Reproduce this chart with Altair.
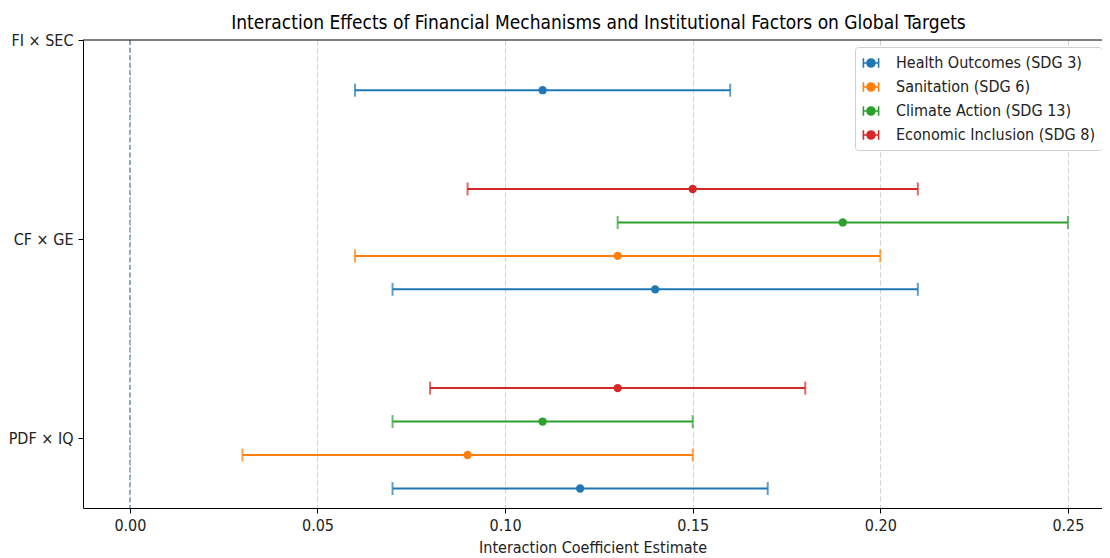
import json
import altair as alt
import pandas as pd

# ---- data ----
categories = ["PDF × IQ", "CF × GE", "FI × SEC"]          # bottom -> top
series_names = [
    "Health Outcomes (SDG 3)",
    "Sanitation (SDG 6)",
    "Climate Action (SDG 13)",
    "Economic Inclusion (SDG 8)",
]
colors = ["#1f77b4", "#ff7f0e", "#2ca02c", "#d62728"]

row_interaction = ["PDF × IQ"] * 4 + ["CF × GE"] * 4 + ["FI × SEC"]
row_series = series_names + series_names + [series_names[0]]
estimates = [0.12, 0.09, 0.11, 0.13, 0.14, 0.13, 0.19, 0.15, 0.11]
lower = [0.07, 0.03, 0.07, 0.08, 0.07, 0.06, 0.13, 0.09, 0.06]
upper = [0.17, 0.15, 0.15, 0.18, 0.21, 0.20, 0.25, 0.21, 0.16]
x_ticks = [0.0, 0.05, 0.10, 0.15, 0.20, 0.25]
zero_line = [0.0]
y_top = [2.0]

df = pd.DataFrame({
    "interaction": row_interaction,
    "series": row_series,
    "estimate": estimates,
    "lower": lower,
    "upper": upper,
})
zero_df = pd.DataFrame({"v": zero_line})
top_df = pd.DataFrame({"t": y_top})

FONT = "DejaVu Sans Condensed"
cats_js = json.dumps(categories, ensure_ascii=False)
ser_js = json.dumps(series_names, ensure_ascii=False)
ypos_expr = (f"indexof({cats_js}, datum.interaction) + "
             f"(indexof({ser_js}, datum.series) - 1.5) * 0.168")

x_scale = alt.Scale(domain=[-0.0125, 0.25909], nice=False, zero=False)
y_scale = alt.Scale(domain=[-0.35, 2.0], nice=False, zero=False)
y_axis = alt.Axis(values=[0, 1, 2], labelExpr=f"{cats_js}[datum.value]",
                  title=None, grid=False, tickSize=5, labelPadding=5,
                  labelFontSize=16, domainColor="black", tickColor="black")
y_enc = alt.Y("ypos:Q", scale=y_scale, axis=y_axis)
col_scale = alt.Scale(domain=series_names, range=colors)

# errorbar-like legend glyph: caps, bar and a (stroked, concentric) dot
legend_path = ("M-0.95,-0.6V0.6M0.95,-0.6V0.6M-0.95,0H0.95"
               "M0.5,0A0.5,0.5,0,1,1,-0.5,0A0.5,0.5,0,1,1,0.5,0"
               "M0.32,0A0.32,0.32,0,1,1,-0.32,0A0.32,0.32,0,1,1,0.32,0"
               "M0.14,0A0.14,0.14,0,1,1,-0.14,0A0.14,0.14,0,1,1,0.14,0")
legend = alt.Legend(title=None, orient="none", legendX=772, legendY=7,
                    symbolType=legend_path, symbolSize=256, symbolStrokeWidth=1.6,
                    symbolOpacity=1, labelLimit=400,
                    labelFontSize=16, labelFont=FONT, labelColor="#222222",
                    labelOffset=16, rowPadding=7, padding=7,
                    strokeColor="#d0d0d0", fillColor="white", cornerRadius=3)

base = alt.Chart(df).transform_calculate(ypos=ypos_expr)

bars = base.mark_rule(strokeWidth=2).encode(
    x=alt.X("lower:Q", scale=x_scale,
            axis=alt.Axis(values=x_ticks, format=".2f", grid=True,
                          gridColor="#cfcfcf", gridDash=[5, 3], gridWidth=1,
                          tickSize=5, labelPadding=4, labelFontSize=16,
                          domainColor="black", tickColor="black",
                          title="Interaction Coefficient Estimate",
                          titleFontSize=16, titlePadding=6,
                          titleFontWeight="normal")),
    x2="upper:Q",
    y=y_enc,
    color=alt.Color("series:N", scale=col_scale, legend=legend),
)

caps = base.transform_fold(["lower", "upper"], as_=["end", "val"]).mark_tick(
    orient="vertical", size=13, thickness=2
).encode(
    x=alt.X("val:Q", scale=x_scale),
    y=y_enc,
    color=alt.Color("series:N", scale=col_scale, legend=legend),
)

points = base.mark_circle(size=70, opacity=1).encode(
    x=alt.X("estimate:Q", scale=x_scale),
    y=y_enc,
    color=alt.Color("series:N", scale=col_scale, legend=legend),
)

zero = alt.Chart(zero_df).mark_rule(color="#1f77b4", strokeWidth=1,
                                    strokeDash=[5, 2.5]).encode(
    x=alt.X("v:Q", scale=x_scale),
)

top_spine = alt.Chart(top_df).mark_rule(color="black", strokeWidth=1).encode(
    y=alt.Y("t:Q", scale=y_scale),
)

chart = alt.layer(zero, top_spine, bars, caps, points).properties(
    width=1019,
    height=468,
    title=alt.Title(
        "Interaction Effects of Financial Mechanisms and Institutional Factors on Global Targets",
        fontSize=19, fontWeight="normal", font=FONT, color="black",
        anchor="middle", offset=4, dx=6, dy=5),
    padding={"left": 75, "top": 32, "right": 0, "bottom": 50},
    autosize=alt.AutoSizeParams(type="none"),
).configure_view(stroke=None).configure_axis(
    labelFont=FONT, titleFont=FONT, labelColor="#222222", titleColor="#222222"
)

chart.save("out.html", embed_options={"renderer": "svg", "actions": False})
